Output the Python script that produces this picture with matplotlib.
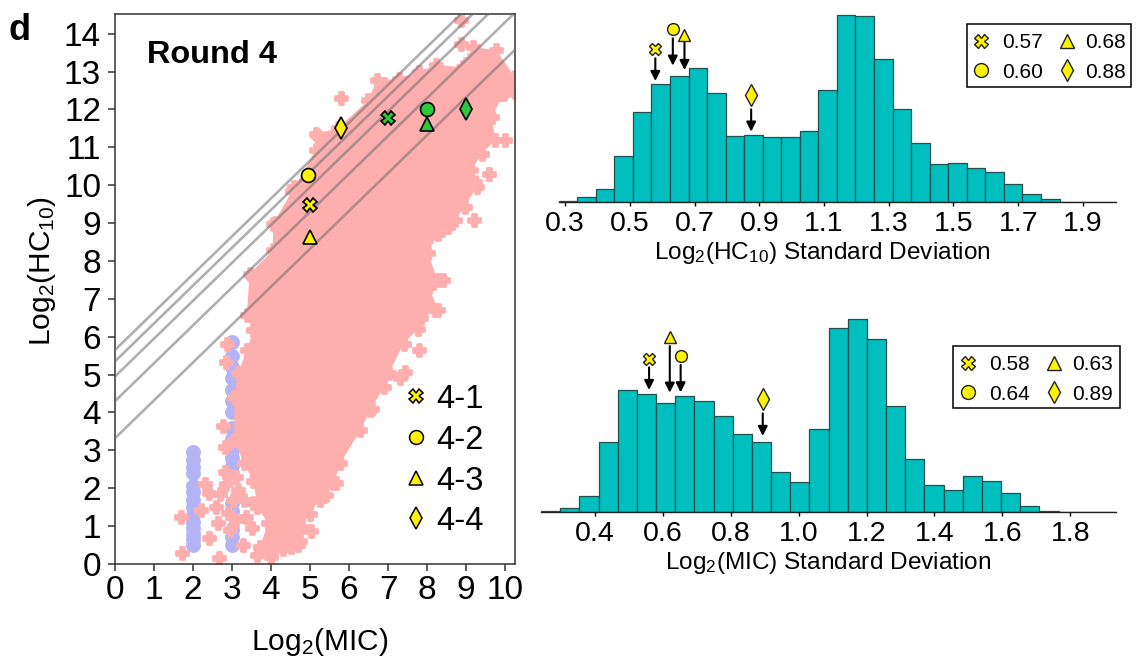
import matplotlib
matplotlib.use("Agg")
import matplotlib.pyplot as plt
from matplotlib.patches import Rectangle

plt.rcParams['font.family'] = ['Liberation Sans', 'DejaVu Sans']
plt.rcParams['mathtext.fontset'] = 'custom'
plt.rcParams['mathtext.rm'] = 'Liberation Sans'
plt.rcParams['mathtext.default'] = 'regular'

W, H = 1138, 660
YEL, GRN, TEAL = '#FFF200', '#2DC83C', '#00BFBF'
PINK, BLUE = '#FFAEAE', '#B3B3F5'
MARK = ['X', 'o', '^', 'd']

# ---------- scatter panel data ----------
# outline of the dense point cloud (clockwise from top of left edge)
cloud_x = [3.55, 3.38, 3.15, 3.06, 3.06, 3.3, 3.55, 3.65, 3.92, 3.72, 4.0, 4.5, 4.75, 4.8, 4.99, 5.25, 5.6, 5.78, 6.29,
           6.55, 6.9, 7.02, 7.4, 7.76, 7.85, 8.28, 8.05, 8.28, 8.02, 8.28, 8.54, 8.71, 8.97, 9.27, 9.22, 9.14, 9.4,
           9.75, 9.66, 9.97, 9.84, 9.84, 10.25, 10.25, 9.78, 9.18, 9.09, 8.92, 8.23, 7.79, 7.27, 6.71, 6.49, 5.71,
           5.15, 5.15, 4.55, 4.05, 4.05, 3.45, 3.38]
cloud_y = [6.17, 5.65, 5.03, 4.41, 3.27, 2.66, 2.2, 1.51, 1.07, 0.46, 0.3, 0.45, 0.6, 0.98, 1.33, 1.69, 2.13, 2.66, 3.53,
           4.06, 4.68, 5.03, 5.82, 6.2, 6.5, 6.7, 7.32, 7.5, 8.2, 8.72, 8.9, 9.07, 9.43, 9.96, 10.09, 10.4, 10.83,
           11.19, 11.8, 12.42, 12.42, 12.42, 12.46, 12.86, 13.56, 13.65, 13.3, 13.12, 13.17, 13.0, 12.8, 12.77, 12.24, 11.5,
           11.36, 10.92, 9.86, 8.98, 8.28, 7.66, 6.57]
stray_x = [5.8, 8.87, 8.87, 6.9, 5.2, 9.6, 9.2, 8.4, 8.2, 3.5, 4.1, 4.6, 2.88, 2.84, 2.77, 2.82, 2.82, 2.3, 2.42,
           2.2, 1.7, 1.73, 2.4, 2.67, 2.64, 2.94, 3.29, 3.63, 4.0, 4.68, 5.03, 3.03, 2.68, 3.1, 3.35, 3.1, 7.44,
           7.8, 5.67, 5.4, 2.6, 2.85, 3.3, 2.9, 3.15, 3.5, 3.55, 3.8, 4.3, 10.0, 9.95, 6.6, 7.3]
stray_y = [12.3, 13.74, 14.35, 12.68, 11.3, 10.3, 9.07, 7.5, 6.7, 7.6, 9.0, 9.95, 5.82, 5.32, 3.64, 3.1, 2.43, 2.1,
           1.87, 1.43, 1.23, 0.28, 0.68, 0.15, 1.09, 0.9, 0.5, 0.23, 0.19, 0.5, 0.87, 1.69, 1.86, 2.3, 1.25, 1.16,
           5.07, 5.65, 2.15, 1.82, 1.5, 2.1, 1.7, 1.35, 1.95, 0.95, 1.6, 0.4, 0.4, 11.2, 12.6, 4.1, 4.9]
blue2_y = [0.5, 0.65, 0.8, 0.95, 1.1, 1.3, 1.5, 1.7, 1.9, 2.05, 2.4, 2.55, 2.75, 2.95]
blue3_y = [0.5, 0.7, 0.9, 1.4, 1.6, 2.6, 2.8, 3.0, 3.3, 3.6, 4.0, 4.3, 4.6, 4.9, 5.2, 5.5, 5.85]
diag_offsets = [3.32, 4.3, 4.95, 5.35, 5.65]
diag_x = [0, 10.26]
sel_mic = [5, 4.95, 5, 5.8]
sel_hc = [9.47, 10.28, 8.62, 11.52]
sel_mic2 = [7, 8, 8, 9]
sel_hc2 = [11.77, 12.0, 11.62, 12.0]
names = ['4-1', '4-2', '4-3', '4-4']

# ---------- histogram data ----------
hc_start, hc_width = 0.2805, 0.0573
hc_counts = [3, 15, 41, 139, 271, 355, 380, 402, 329, 199, 202, 196, 196, 213, 337, 562, 559, 430, 280, 177,
             116, 119, 104, 92, 56, 24, 9, 1, 0.7, 1]
hc_ticks = [0.3, 0.5, 0.7, 0.9, 1.1, 1.3, 1.5, 1.7, 1.9]
hc_arrow_x = [0.579, 0.633, 0.669, 0.875]
hc_arrow_top = [432, 492, 479, 279]
hc_arrow_tip = [364, 410, 397, 212]
hc_mark_y = [459, 519, 502, 322]
hc_vals = ['0.57', '0.60', '0.68', '0.88']

mic_start, mic_width = 0.2405, 0.0565
mic_counts = [3, 14, 48, 211, 366, 354, 327, 350, 334, 288, 235, 211, 122, 91, 249, 552, 580, 520, 318, 160,
              83, 68, 110, 94, 57, 20, 4, 2, 1, 2]
mic_ticks = [0.4, 0.6, 0.8, 1.0, 1.2, 1.4, 1.6, 1.8]
mic_arrow_x = [0.559, 0.652, 0.620, 0.894]
mic_arrow_top = [435, 442, 499, 297]
mic_arrow_tip = [367, 360, 359, 229]
mic_mark_y = [460, 469, 527, 339]
mic_vals = ['0.58', '0.64', '0.63', '0.89']


def axes_px(fig, l, t, r, b):
    return fig.add_axes([l / W, 1 - b / H, (r - l) / W, (b - t) / H])


fig = plt.figure(figsize=(W / 100, H / 100), dpi=100, facecolor='white')

# ---------- scatter panel ----------
ax = axes_px(fig, 115, 14, 515, 564)
ax.set_xlim(0, 10.256)
ax.set_ylim(0, 14.52)
ax.scatter([2] * len(blue2_y), blue2_y, s=115, c=BLUE, lw=0, zorder=1)
ax.scatter([3] * len(blue3_y), blue3_y, s=115, c=BLUE, lw=0, zorder=1)
ax.fill(cloud_x, cloud_y, color=PINK, lw=0, zorder=2)
ax.scatter(cloud_x, cloud_y, s=70, marker='P', c=PINK, edgecolors=PINK, lw=2, zorder=2)
ax.scatter(stray_x, stray_y, s=70, marker='P', c=PINK, edgecolors=PINK, lw=2, zorder=2)
for c in diag_offsets:
    ax.plot(diag_x, [v + c for v in diag_x], color='#6E6E6E', alpha=0.55, lw=1.9, zorder=3)
for m, a, b, a2, b2 in zip(MARK, sel_mic, sel_hc, sel_mic2, sel_hc2):
    ms = 10 if m != 'd' else 11
    ax.plot(a, b, m, ms=ms, mfc=YEL, mec='k', mew=1.2, zorder=5)
    ax.plot(a2, b2, m, ms=ms, mfc=GRN, mec='k', mew=1.2, zorder=5)
ax.set_xticks(range(11))
ax.set_yticks(range(15))
ax.tick_params(length=5, width=1.1, color='#333333', labelsize=24)
ax.tick_params(axis='x', pad=3)
ax.tick_params(axis='y', pad=5)
for s in ax.spines.values():
    s.set_color('#333333')
    s.set_linewidth(1.1)
ax.set_xlabel(r'Log$_{2}$(MIC)', fontsize=21.5, va='baseline')
ax.xaxis.set_label_coords((320 - 115) / 400, (564 - 650) / 550)
ax.set_ylabel(r'Log$_{2}$(HC$_{10}$)', fontsize=21.5, va='baseline')
ax.yaxis.set_label_coords((50 - 115) / 400, (564 - 271) / 550)


def hist_panel(l, t, r, b, xlim, ylim, start, width, counts, ticks, label, lab_px, ax_x, ax_top, ax_tip, mk_y):
    h = axes_px(fig, l, t, r, b)
    h.set_xlim(*xlim)
    h.set_ylim(*ylim)
    lefts = [start + i * width for i in range(len(counts))]
    h.bar(lefts, counts, width=width, align='edge', color=TEAL, edgecolor='#21504F', lw=0.9)
    for s in ['top', 'left', 'right']:
        h.spines[s].set_visible(False)
    h.spines['bottom'].set_linewidth(1.0)
    h.spines['bottom'].set_color('#222222')
    h.set_yticks([])
    h.set_xticks(ticks)
    h.set_xticklabels([f'{v:.1f}' for v in ticks])
    h.tick_params(axis='x', length=3, width=1, labelsize=20.5, pad=3)
    h.set_xlabel(label, fontsize=17.6, va='baseline')
    h.xaxis.set_label_coords((lab_px[0] - l) / (r - l), (b - lab_px[1]) / (b - t))
    for m, x, t0, t1, y in zip(MARK, ax_x, ax_top, ax_tip, mk_y):
        h.annotate('', xy=(x, t1), xytext=(x, t0),
                   arrowprops=dict(arrowstyle='-|>', color='k', lw=1.5, shrinkA=0, shrinkB=0, mutation_scale=14))
        h.plot(x, y, m, ms=11 if m == 'd' else 8.5, mfc=YEL, mec='#222222', mew=1.0, clip_on=False, zorder=5)
    return h


hist_panel(558.7, 14, 1116, 202.3, (0.2805, 2.002), (0, 565), hc_start, hc_width, hc_counts, hc_ticks,
           r'Log$_{2}$(HC$_{10}$) Standard Deviation', (822, 259), hc_arrow_x, hc_arrow_top, hc_arrow_tip, hc_mark_y)
hist_panel(541, 316.7, 1116, 512.3, (0.2405, 1.935), (0, 587), mic_start, mic_width, mic_counts, mic_ticks,
           r'Log$_{2}$(MIC) Standard Deviation', (828, 569), mic_arrow_x, mic_arrow_top, mic_arrow_tip, mic_mark_y)

# ---------- overlay in figure pixels: panel letter, title, keys ----------
ov = fig.add_axes([0, 0, 1, 1])
ov.set_xlim(0, W)
ov.set_ylim(H, 0)
ov.axis('off')
ov.patch.set_alpha(0)
ov.text(9, 40, 'd', fontsize=26, fontweight='bold', va='baseline')
ov.text(147, 63, 'Round 4', fontsize=23.4, fontweight='bold', va='baseline')
for m, n, y in zip(MARK, names, [396, 437, 478, 518]):
    ov.plot(416, y, m, ms=10 if m != 'd' else 11, mfc=YEL, mec='k', mew=1.1)
    ov.text(436, y, n, fontsize=23.5, va='center_baseline')


def key_box(l, t, r, b, cols, rows, txt_cols, vals):
    ov.add_patch(Rectangle((l, t), r - l, b - t, fc='white', ec='k', lw=1.1, zorder=3))
    order = [(0, 0), (0, 1), (1, 0), (1, 1)]
    for (c, ro), m, v in zip(order, MARK, vals):
        ov.plot(cols[c], rows[ro], m, ms=10 if m != 'd' else 11, mfc=YEL, mec='#222222', mew=1.0, zorder=4)
        ov.text(txt_cols[c], rows[ro], v, fontsize=15, va='center_baseline', zorder=4)


key_box(966.6, 24, 1130.7, 86.7, [981, 1067], [41, 70], [1002.5, 1085.5], hc_vals)
key_box(953, 345.7, 1120, 408, [968, 1054], [362.7, 392], [989, 1072], mic_vals)

fig.savefig('out.png', dpi=100)
